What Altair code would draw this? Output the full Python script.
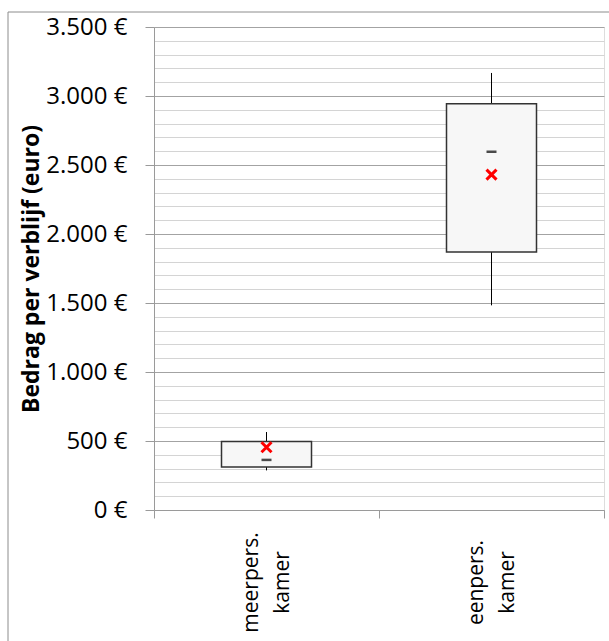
import altair as alt
import pandas as pd

# Room types on the x axis
categories = ["meerpers. kamer", "eenpers. kamer"]

# Box-plot statistics per room type (euro per stay)
whisker_low = [287, 1483]
box_low = [312, 1870]
medians = [363, 2596]
box_high = [497, 2944]
whisker_high = [565, 3167]
means = [455, 2430]

# Gridline positions (minor every 100, labelled every 500)
y_ticks = list(range(0, 3501, 100))

y_title = "Bedrag per verblijf (euro)"
chart_title = "gemiddelde (gewogen) bedrag per verblijf naar kamertype"

W, H = 450, 483
PAD_L, PAD_T, PAD_R, PAD_B = 154, 27, 5, 131
FONT = "Open Sans"

df = pd.DataFrame({
    "kamer": categories,
    "lo": whisker_low,
    "q1": box_low,
    "med": medians,
    "q3": box_high,
    "hi": whisker_high,
    "gem": means,
})

major = "datum.value % 500 === 0"

x_enc = alt.X(
    "kamer:N",
    sort=categories,
    scale=alt.Scale(paddingInner=0, paddingOuter=0),
    axis=alt.Axis(
        title=None,
        domainColor="#9a9a9a",
        tickColor="#9a9a9a",
        tickSize=8,
        tickBand="extent",
        labelAngle=-90,
        labelAlign="center",
        labelBaseline="middle",
        labelPadding=64,
        labelOffset=-15,
        labelFontSize=21,
        labelFont=FONT,
        labelColor="black",
        labelLineHeight=31,
        labelExpr="split(datum.label, ' ')",
    ),
)

y_scale = alt.Scale(domain=[0, 3500], nice=False, zero=True)
y_axis = alt.Axis(
    values=y_ticks,
    tickCount=200,
    grid=True,
    gridColor={"condition": {"test": major, "value": "#a3a3a3"}, "value": "#d4d4d4"},
    gridWidth=1,
    domainColor="#9a9a9a",
    tickColor="#9a9a9a",
    tickSize=9,
    tickOpacity={"condition": {"test": major, "value": 1}, "value": 0},
    labelExpr=major + " ? replace(format(datum.value, ','), ',', '.') + ' €' : ''",
    labelOverlap=False,
    labelPadding=18,
    labelFontSize=24,
    labelFont=FONT,
    labelColor="black",
    title=y_title,
    titleFont=FONT,
    titleFontSize=23,
    titleFontWeight="bold",
    titleColor="black",
    titleAngle=270,
    titleAlign="center",
    titleBaseline="alphabetic",
    titleX=-116,
    titleY=H / 2,
)

base = alt.Chart(df)

whiskers = base.mark_rule(color="black", strokeWidth=1).encode(
    x=x_enc,
    y=alt.Y("lo:Q", scale=y_scale, axis=y_axis),
    y2="hi:Q",
)

boxes = base.mark_bar(size=90, fill="#f7f7f7", stroke="#333333", strokeWidth=1.5).encode(
    x=x_enc,
    y=alt.Y("q1:Q", scale=y_scale),
    y2="q3:Q",
)

median_ticks = base.mark_tick(size=10, thickness=2.5, color="black").encode(
    x=x_enc,
    y=alt.Y("med:Q", scale=y_scale),
)

mean_marks = base.mark_point(
    shape="M-1,-1L1,1M-1,1L1,-1", size=100, stroke="#ff0000",
    strokeWidth=3, filled=False, opacity=1,
).encode(
    x=x_enc,
    y=alt.Y("gem:Q", scale=y_scale),
)

# Outer chart frame and the clipped heading above it
frame_df = pd.DataFrame({"t": [chart_title]})
frame = alt.Chart(frame_df).mark_rect(
    fill="transparent", stroke="#8c8c8c", strokeWidth=1
).encode(
    x=alt.value(8 - PAD_L), x2=alt.value(W + 40),
    y=alt.value(12 - PAD_T), y2=alt.value(H + 200),
)
heading = alt.Chart(frame_df).mark_text(
    align="left", baseline="alphabetic", fontSize=24, font=FONT, color="#4a7ebb"
).encode(
    x=alt.value(8 - PAD_L), y=alt.value(-6 - PAD_T), text="t:N",
)

chart = alt.layer(whiskers, boxes, median_ticks, mean_marks, frame, heading).properties(
    width=W,
    height=H,
    autosize=alt.AutoSizeParams(type="none"),
    padding={"left": PAD_L, "top": PAD_T, "right": PAD_R, "bottom": PAD_B},
).configure_view(stroke=None).configure(font=FONT)

chart.save("out.html", embed_options={"renderer": "svg", "actions": False})
